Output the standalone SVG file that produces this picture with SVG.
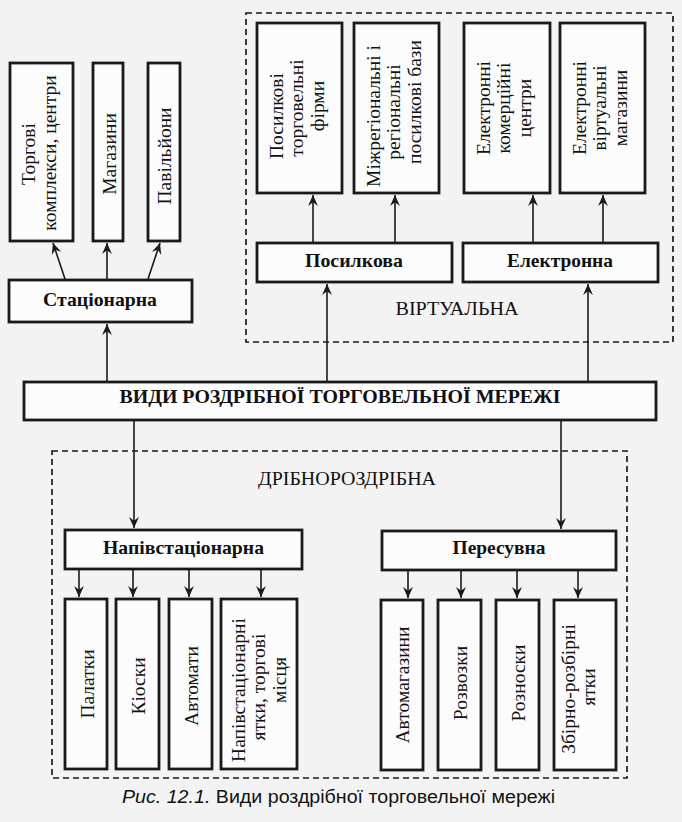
<svg xmlns="http://www.w3.org/2000/svg" width="682" height="822" viewBox="0 0 682 822">
<style>
.bg{fill:#f3f3f3}
.box{fill:#fcfcfc;stroke:#1a1a1a;stroke-width:2.8}
.dash{fill:none;stroke:#1a1a1a;stroke-width:1.7;stroke-dasharray:6 4}
.conn line{stroke:#1a1a1a;stroke-width:1.6;marker-end:url(#ah)}
text{font-family:"Liberation Serif","Times New Roman",serif;fill:#111}
.vt{font-size:19.5px;text-anchor:middle}
.bt{font-size:19px;font-weight:bold;text-anchor:middle}
.gt{font-size:18px;text-anchor:middle}
.cap{font-family:"Liberation Sans",Arial,sans-serif;font-size:18px}
</style>
<defs>
<marker id="ah" viewBox="0 0 10 10" refX="10" refY="5" markerWidth="11" markerHeight="11" markerUnits="userSpaceOnUse" orient="auto">
<path d="M0,0.5 L10,5 L0,9.5 L3.5,5 z" fill="#1a1a1a"/>
</marker>
</defs>
<rect class="bg" x="0" y="0" width="682" height="822"/>

<g id="groups">
<rect class="dash" x="246" y="13" width="427" height="329"/>
<text class="gt" x="457" y="315" textLength="123" lengthAdjust="spacingAndGlyphs">ВІРТУАЛЬНА</text>
<rect class="dash" x="52" y="451" width="575" height="327"/>
<text class="gt" x="347" y="485" textLength="178" lengthAdjust="spacingAndGlyphs">ДРІБНОРОЗДРІБНА</text>
</g>

<g id="connectors" class="conn">
<line x1="107" y1="381" x2="107" y2="324"/>
<line x1="65" y1="279" x2="53" y2="243"/>
<line x1="107" y1="279" x2="107" y2="243"/>
<line x1="148" y1="279" x2="160" y2="243"/>
<line x1="327" y1="381" x2="327" y2="284"/>
<line x1="588" y1="381" x2="588" y2="284"/>
<line x1="313" y1="242" x2="313" y2="195"/>
<line x1="395" y1="242" x2="395" y2="195"/>
<line x1="533" y1="242" x2="533" y2="195"/>
<line x1="603" y1="242" x2="603" y2="195"/>
<line x1="134" y1="421" x2="134" y2="528"/>
<line x1="561" y1="421" x2="561" y2="529"/>
<line x1="79" y1="570" x2="79" y2="597"/>
<line x1="133" y1="570" x2="133" y2="597"/>
<line x1="189" y1="570" x2="189" y2="597"/>
<line x1="261" y1="570" x2="261" y2="597"/>
<line x1="408" y1="571" x2="408" y2="598"/>
<line x1="461" y1="571" x2="461" y2="598"/>
<line x1="517" y1="571" x2="517" y2="598"/>
<line x1="578" y1="571" x2="578" y2="598"/>
</g>

<g id="main">
<rect class="box" x="24" y="382" width="632" height="38"/>
<text class="bt" x="340" y="403" font-size="18" textLength="441" lengthAdjust="spacingAndGlyphs">ВИДИ РОЗДРІБНОЇ ТОРГОВЕЛЬНОЇ МЕРЕЖІ</text>
</g>

<g id="stacionarna">
<rect class="box" x="9" y="280" width="183" height="42"/>
<text class="bt" x="100" y="306" textLength="114" lengthAdjust="spacingAndGlyphs">Стаціонарна</text>
</g>
<g id="torgovi">
<rect class="box" x="10" y="63" width="63" height="178"/>
<text class="vt" transform="translate(41.5,152) rotate(-90)"><tspan x="-2" y="-7">Торгові</tspan><tspan x="-1" y="14">комплекси, центри</tspan></text>
</g>
<g id="magazyny">
<rect class="box" x="93" y="63" width="30" height="178"/>
<text class="vt" transform="translate(108,152) rotate(-90)"><tspan x="-2" y="8">Магазини</tspan></text>
</g>
<g id="pavilyony">
<rect class="box" x="148" y="63" width="32" height="178"/>
<text class="vt" transform="translate(164,152) rotate(-90)"><tspan x="-4" y="7">Павільйони</tspan></text>
</g>

<g id="posylkova">
<rect class="box" x="257" y="243" width="195" height="39"/>
<text class="bt" x="354" y="267" textLength="98" lengthAdjust="spacingAndGlyphs">Посилкова</text>
</g>
<g id="elektronna">
<rect class="box" x="463" y="243" width="195" height="39"/>
<text class="bt" x="560" y="267" textLength="106" lengthAdjust="spacingAndGlyphs">Електронна</text>
</g>
<g id="posylkovi-firmy">
<rect class="box" x="257" y="23" width="85" height="170"/>
<text class="vt" transform="translate(299.5,108) rotate(-90)"><tspan x="-8" y="-17">Посилкові</tspan><tspan x="0" y="3">торговельні</tspan><tspan x="2" y="24">фірми</tspan></text>
</g>
<g id="mizhregionalni">
<rect class="box" x="354" y="23" width="85" height="170"/>
<text class="vt" transform="translate(396.5,108) rotate(-90)"><tspan x="-8" y="-17">Міжрегіональні і</tspan><tspan x="-4" y="3">регіональні</tspan><tspan x="6" y="24">посилкові бази</tspan></text>
</g>
<g id="el-komertsiini">
<rect class="box" x="464" y="23" width="86" height="170"/>
<text class="vt" transform="translate(507,108) rotate(-90)"><tspan x="0" y="-17">Електронні</tspan><tspan x="0" y="3">комерційні</tspan><tspan x="0" y="24">центри</tspan></text>
</g>
<g id="el-virtualni">
<rect class="box" x="560" y="23" width="85" height="170"/>
<text class="vt" transform="translate(602.5,108) rotate(-90)"><tspan x="0" y="-17">Електронні</tspan><tspan x="0" y="3">віртуальні</tspan><tspan x="0" y="24">магазини</tspan></text>
</g>

<g id="napivstacionarna">
<rect class="box" x="65" y="530" width="237" height="39"/>
<text class="bt" x="183.5" y="554" textLength="161" lengthAdjust="spacingAndGlyphs">Напівстаціонарна</text>
</g>
<g id="palatky">
<rect class="box" x="65" y="599" width="42" height="170"/>
<text class="vt" transform="translate(86,684) rotate(-90)"><tspan x="0" y="8">Палатки</tspan></text>
</g>
<g id="kiosky">
<rect class="box" x="116" y="599" width="43" height="170"/>
<text class="vt" transform="translate(137.5,684) rotate(-90)"><tspan x="-2" y="7">Кіоски</tspan></text>
</g>
<g id="avtomaty">
<rect class="box" x="169" y="599" width="43" height="170"/>
<text class="vt" transform="translate(190.5,684) rotate(-90)"><tspan x="-2" y="7">Автомати</tspan></text>
</g>
<g id="napiv-yatky">
<rect class="box" x="221" y="599" width="76" height="170"/>
<text class="vt" transform="translate(259,684) rotate(-90)"><tspan x="-6" y="-14">Напівстаціонарні</tspan><tspan x="-3" y="6">ятки, торгові</tspan><tspan x="4" y="27">місця</tspan></text>
</g>

<g id="peresuvna">
<rect class="box" x="382" y="531" width="234" height="39"/>
<text class="bt" x="499" y="554" textLength="93" lengthAdjust="spacingAndGlyphs">Пересувна</text>
</g>
<g id="avtomagazyny">
<rect class="box" x="381" y="600" width="42" height="170"/>
<text class="vt" transform="translate(402,685) rotate(-90)"><tspan x="0" y="7">Автомагазини</tspan></text>
</g>
<g id="rozvozky">
<rect class="box" x="438" y="600" width="43" height="170"/>
<text class="vt" transform="translate(459.5,685) rotate(-90)"><tspan x="2" y="7">Розвозки</tspan></text>
</g>
<g id="roznosky">
<rect class="box" x="496" y="600" width="43" height="170"/>
<text class="vt" transform="translate(517.5,685) rotate(-90)"><tspan x="2" y="7">Розноски</tspan></text>
</g>
<g id="zbirno-rozbirni">
<rect class="box" x="554" y="600" width="62" height="170"/>
<text class="vt" transform="translate(585,685) rotate(-90)"><tspan x="-4" y="-10">Збірно-розбірні</tspan><tspan x="-2" y="10">ятки</tspan></text>
</g>

<g id="caption">
<text class="cap" x="122" y="803" textLength="433" lengthAdjust="spacingAndGlyphs"><tspan font-style="italic">Рис. 12.1.</tspan> Види роздрібної торговельної мережі</text>
</g>
</svg>
